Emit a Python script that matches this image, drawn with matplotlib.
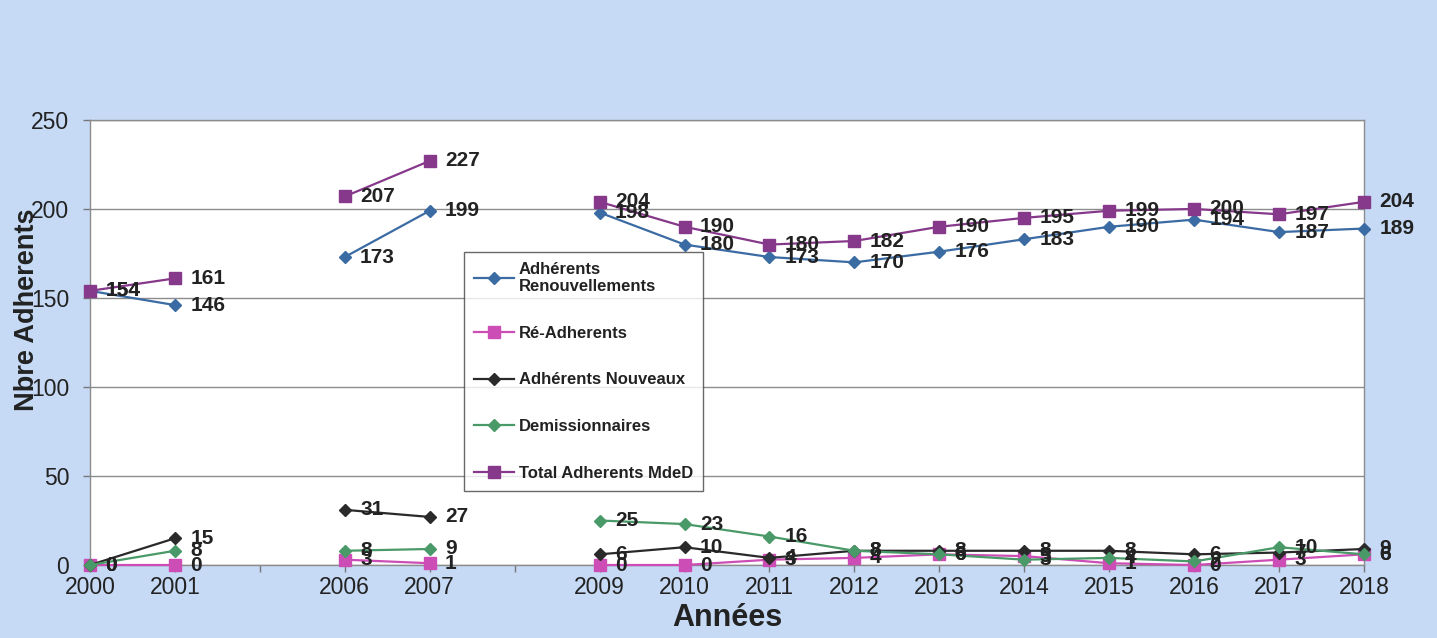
import numpy as np
import matplotlib
matplotlib.use('Agg')
import matplotlib.pyplot as plt

plt.rcParams['font.family'] = ['Liberation Sans', 'DejaVu Sans']

# categories (blank slots are the missing years)
annees = ['2000', '2001', '', '2006', '2007', '', '2009', '2010', '2011',
          '2012', '2013', '2014', '2015', '2016', '2017', '2018']

nan = np.nan
renouvellements = [154, 146, nan, 173, 199, nan, 198, 180, 173, 170, 176, 183, 190, 194, 187, 189]
re_adherents = [0, 0, nan, 3, 1, nan, 0, 0, 3, 4, 6, 5, 1, 0, 3, 6]
nouveaux = [0, 15, nan, 31, 27, nan, 6, 10, 4, 8, 8, 8, 8, 6, 7, 9]
demissionnaires = [0, 8, nan, 8, 9, nan, 25, 23, 16, 8, 6, 3, 4, 2, 10, 6]
total = [154, 161, nan, 207, 227, nan, 204, 190, 180, 182, 190, 195, 199, 200, 197, 204]

series = [
    ('Adhérents\nRenouvellements', renouvellements, '#3B6BA3', 'D', 6.5),
    ('Ré-Adherents', re_adherents, '#CC4DB5', 's', 8.5),
    ('Adhérents Nouveaux', nouveaux, '#2A2A2A', 'D', 6.5),
    ('Demissionnaires', demissionnaires, '#4A9968', 'D', 6.5),
    ('Total Adherents MdeD', total, '#86388A', 's', 8.5),
]

BG = '#C6DAF6'
fig = plt.figure(figsize=(14.37, 6.38), dpi=100, facecolor=BG)
ax = fig.add_axes([0.0626, 0.1144, 0.8866, 0.6976])
ax.set_facecolor('white')

x = np.arange(len(annees))
for label, vals, color, marker, ms in series:
    ax.plot(x, vals, color=color, marker=marker, markersize=ms, linewidth=1.6,
            label=label, clip_on=False, zorder=3)
    # étiquettes de données à droite des points
    for xi, v in zip(x, vals):
        if np.isnan(v):
            continue
        ax.annotate(f'{int(v)}', (xi, v), xytext=(11, 0), textcoords='offset points',
                    va='center', ha='left', fontsize=15, fontweight='bold',
                    color='#222222', annotation_clip=False, zorder=4)

ax.set_xlim(0, len(annees) - 1)
ax.set_ylim(0, 250)
ax.set_yticks([0, 50, 100, 150, 200, 250])
ax.set_xticks(x)
ax.set_xticklabels(annees)
ax.tick_params(axis='both', labelsize=16.5, color='#777777', length=5, width=1,
               labelcolor='#222222')
ax.tick_params(axis='x', pad=3)
ax.tick_params(axis='y', pad=10)

ax.grid(True, axis='y', color='#8C8C8C', linewidth=1)
ax.set_axisbelow(True)
for sp in ax.spines.values():
    sp.set_color('#8C8C8C')
    sp.set_linewidth(1)

ax.set_xlabel('Années', fontsize=22, fontweight='bold', color='#222222', labelpad=3)
fig.text(0.019, 0.515, 'Nbre Adherents', rotation=90, fontsize=19.5, fontweight='bold',
         color='#222222', ha='center', va='center')

leg = ax.legend(loc='upper left', bbox_to_anchor=(0.2935, 0.704),
                prop={'weight': 'bold', 'size': 12}, labelspacing=1.9, handlelength=2.4,
                handletextpad=0.3, borderpad=0.6, frameon=True, fancybox=False,
                borderaxespad=0)
leg.get_frame().set_edgecolor('#444444')
leg.get_frame().set_linewidth(1)
leg.set_zorder(5)
for t in leg.get_texts():
    t.set_color('#222222')

fig.savefig('out.png', dpi=100, facecolor=BG)
